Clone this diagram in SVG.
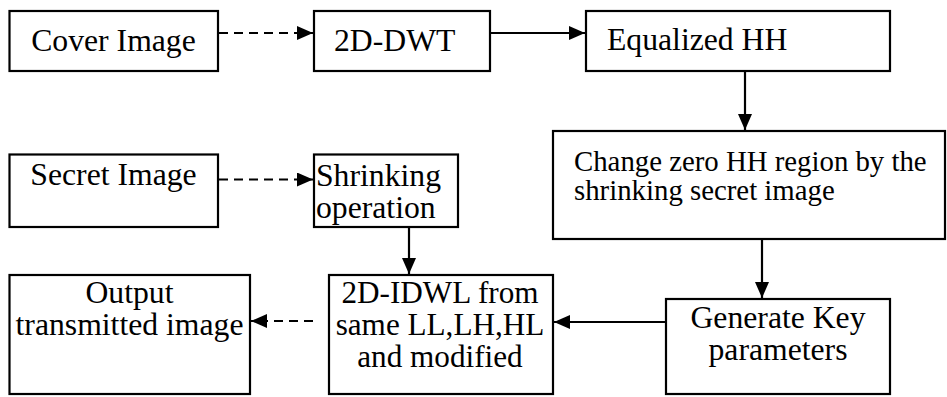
<svg xmlns="http://www.w3.org/2000/svg" width="947" height="397" viewBox="0 0 947 397">
<style>
.box{fill:#fff;stroke:#000;stroke-width:2.2}
text{font-family:'Liberation Serif','Times New Roman',serif;font-size:31.7px;fill:#000}
.s{font-size:28.8px}
.m{font-size:31.2px}
.c{text-anchor:middle}
.ln{stroke:#000;stroke-width:2.2;fill:none}
.d{stroke-dasharray:9 6}
</style>
<defs>
<marker id="ah" markerUnits="userSpaceOnUse" markerWidth="16" markerHeight="14" refX="16" refY="7" orient="auto">
<path d="M0,0 L16,7 L0,14 Z" fill="#000"/>
</marker>
</defs>
<rect width="947" height="397" fill="#fff"/>
<g id="connectors">
<line class="ln d" x1="219" y1="33" x2="313" y2="33" marker-end="url(#ah)"/>
<line class="ln" x1="491" y1="33" x2="585" y2="33" marker-end="url(#ah)"/>
<line class="ln" x1="745" y1="72" x2="745" y2="130" marker-end="url(#ah)"/>
<line class="ln d" x1="219" y1="179.5" x2="313" y2="179.5" marker-end="url(#ah)"/>
<line class="ln" x1="409" y1="228" x2="409" y2="274" marker-end="url(#ah)"/>
<line class="ln" x1="762" y1="240" x2="762" y2="298" marker-end="url(#ah)"/>
<line class="ln" x1="665" y1="322" x2="554" y2="322" marker-end="url(#ah)"/>
<line class="ln d" x1="313" y1="321" x2="251" y2="321" marker-end="url(#ah)"/>
</g>
<g id="cover">
<rect class="box" x="9.5" y="11" width="208.5" height="60"/>
<text class="c" x="113.5" y="50.5">Cover Image</text>
</g>
<g id="dwt">
<rect class="box" x="314" y="11" width="176" height="60"/>
<text x="334" y="50.5">2D-DWT</text>
</g>
<g id="equalized">
<rect class="box" x="586" y="11" width="304" height="60"/>
<text x="607" y="50">Equalized HH</text>
</g>
<g id="secret">
<rect class="box" x="9.5" y="154.5" width="208.5" height="72.5"/>
<text class="c" x="113.5" y="185">Secret Image</text>
</g>
<g id="shrinking">
<rect class="box" x="314" y="154.5" width="144" height="72.5"/>
<text x="316" y="186">Shrinking</text>
<text x="316" y="217.5">operation</text>
</g>
<g id="change">
<rect class="box" x="553" y="131" width="392" height="108"/>
<text class="s" x="574" y="170.5">Change zero HH region by the</text>
<text class="s" x="574" y="199.5">shrinking secret image</text>
</g>
<g id="idwl">
<rect class="box" x="329" y="275" width="224" height="119"/>
<text class="c m" x="440" y="303">2D-IDWL from</text>
<text class="c m" x="440" y="335">same LL,LH,HL</text>
<text class="c m" x="440" y="367">and modified</text>
</g>
<g id="output">
<rect class="box" x="9.5" y="275" width="240.5" height="119"/>
<text class="c" x="129.5" y="303">Output</text>
<text class="c" x="129.5" y="335">transmitted image</text>
</g>
<g id="keys">
<rect class="box" x="666" y="299" width="224" height="95"/>
<text class="c" x="778" y="328">Generate Key</text>
<text class="c" x="778" y="360">parameters</text>
</g>
</svg>
